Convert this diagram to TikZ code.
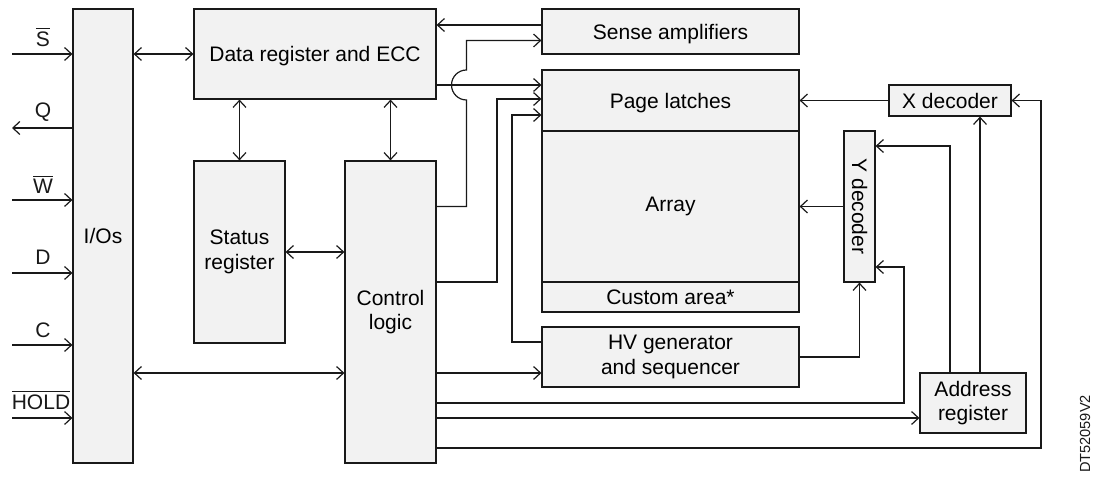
\documentclass[tikz,border=0pt]{standalone}
\usepackage{fontspec}
\setmainfont{Liberation Sans}
\usetikzlibrary{arrows.meta}
\definecolor{boxfill}{RGB}{242,242,242}
\definecolor{linecol}{RGB}{25,25,25}
\newcommand{\ovl}[1]{$\overline{\mbox{#1}}$}
\begin{document}
\begin{tikzpicture}[x=0.5pt,y=-0.5pt, line width=0.6pt, draw=linecol,
  >={Straight Barb[length=3.5pt,width=6.5pt]},
  blk/.style={draw=linecol, fill=boxfill, inner sep=0pt, align=center, font=\fontsize{10.5}{12.2}\selectfont},
  one/.style={text depth=0pt},
  lbl/.style={font=\fontsize{10.5}{12.2}\selectfont, inner sep=0pt, text=linecol},
  wire/.style={draw=linecol}]
\useasboundingbox (0,0) rectangle (1107,480);
% blocks
\node[blk, minimum width=30pt, minimum height=227pt] (ios) at (103,236) {I/Os};
\node[blk, one, minimum width=121pt, minimum height=45pt] (data) at (315,54) {Data register and ECC};
\node[blk, minimum width=45.5pt, minimum height=91pt] (status) at (239.5,252) {Status\\register};
\node[blk, minimum width=45.5pt, minimum height=151pt] (ctrl) at (390.5,312) {Control\\logic};
\node[blk, one, minimum width=128.5pt, minimum height=22.5pt] (sense) at (670.5,31.5) {Sense amplifiers};
\node[blk, one, minimum width=128.5pt, minimum height=30.5pt] (pl) at (670.5,100.5) {Page latches};
\node[blk, minimum width=128.5pt, minimum height=75.5pt] (array) at (670.5,206.5) {Array};
\node[blk, minimum width=128.5pt, minimum height=15pt] (custom) at (670.5,297) {Custom area*};
\node[blk, minimum width=128.5pt, minimum height=30pt] (hv) at (670.5,357) {HV generator\\and sequencer};
\node[blk, minimum width=61pt, minimum height=15.5pt] (xdec) at (950,100.5) {X decoder};
\node[blk, minimum width=15.5pt, minimum height=75.5pt] (ydec) at (859.5,206.5) {\rotatebox{-90}{Y decoder}};
\node[blk, minimum width=53pt, minimum height=30pt] (addr) at (973,403) {Address\\register};
\node[lbl, font=\fontsize{7.3}{8}\selectfont, rotate=90] (dt) at (1085,434) {DT52059V2};
% row / column helper coordinates
\coordinate (sIn) at (12,54);
\coordinate (qOut) at (12,128);
\coordinate (wIn) at (12,200);
\coordinate (dIn) at (12,273);
\coordinate (cIn) at (12,345);
\coordinate (hIn) at (12,418);
\coordinate (r25) at (0,25);
\coordinate (r40) at (0,40.5);
\coordinate (r85) at (0,85);
\coordinate (r99) at (0,99);
\coordinate (r115) at (0,115);
\coordinate (r146) at (0,146);
\coordinate (r206) at (0,206.5);
\coordinate (r267) at (0,267);
\coordinate (r282) at (0,282);
\coordinate (r342) at (0,342);
\coordinate (r373) at (0,373);
\coordinate (r403) at (0,403);
\coordinate (r418) at (0,418);
\coordinate (r448) at (0,448);
\coordinate (c466) at (466.5,0);
\coordinate (c497) at (497,0);
\coordinate (c512) at (512,0);
\coordinate (c904) at (904,0);
\coordinate (c950) at (950,0);
\coordinate (c980) at (980,0);
\coordinate (c1041) at (1041,0);
% input / output pins
\draw[->] (sIn) -- (ios.west |- sIn);
\draw[<-] (qOut) -- (ios.west |- qOut);
\draw[->] (wIn) -- (ios.west |- wIn);
\draw[->] (dIn) -- (ios.west |- dIn);
\draw[->] (cIn) -- (ios.west |- cIn);
\draw[->] (hIn) -- (ios.west |- hIn);
\node[lbl] (ls) at (43,37) {\ovl{S}};
\node[lbl] (lq) at (43,112) {Q};
\node[lbl] (lw) at (43,184) {\ovl{W}};
\node[lbl] (ld) at (43,257) {D};
\node[lbl] (lc) at (43,330) {C};
\node[lbl] (lh) at (41,400) {\ovl{HOLD}};
% connectors
\draw[<->] (ios.east |- data.west) -- (data.west);
\draw[<->] (status.north) -- (status.north |- data.south);
\draw[<->] (ctrl.north) -- (ctrl.north |- data.south);
\draw[<->] (status.east) -- (status.east -| ctrl.west);
\draw[<->] (ios.east |- r373) -- (ctrl.west |- r373);
\draw[->] (sense.west |- r25) -- (data.east |- r25);
\draw[->] (ctrl.east |- r206) -- (c466 |- r206) -- (466.5,100)
   .. controls (458.2,100) and (451.5,93.3) .. (451.5,85)
   .. controls (451.5,76.7) and (458.2,70) .. (466.5,70)
   -- (c466 |- r40) -- (sense.west |- r40);
\draw[->] (data.east |- r85) -- (pl.west |- r85);
\draw[->] (ctrl.east |- r282) -| (c497 |- r99) -- (pl.west |- r99);
\draw[->] (hv.west |- r342) -| (c512 |- r115) -- (pl.west |- r115);
\draw[->] (ctrl.east |- r373) -- (hv.west |- r373);
\draw[->] (ctrl.east |- r403) -| (c904 |- r267) -- (ydec.east |- r267);
\draw[->] (ctrl.east |- r418) -- (addr.west |- r418);
\draw[->] (ctrl.east |- r448) -| (c1041 |- xdec.east) -- (xdec.east);
\draw[->] (xdec.west) -- (xdec.west -| pl.east);
\draw[->] (ydec.west) -- (ydec.west -| array.east);
\draw[->] (c950 |- addr.north) |- (ydec.east |- r146);
\draw[->] (c980 |- addr.north) -- (c980 |- xdec.south);
\draw[->] (hv.east) -| (ydec.south);
\end{tikzpicture}
\end{document}
